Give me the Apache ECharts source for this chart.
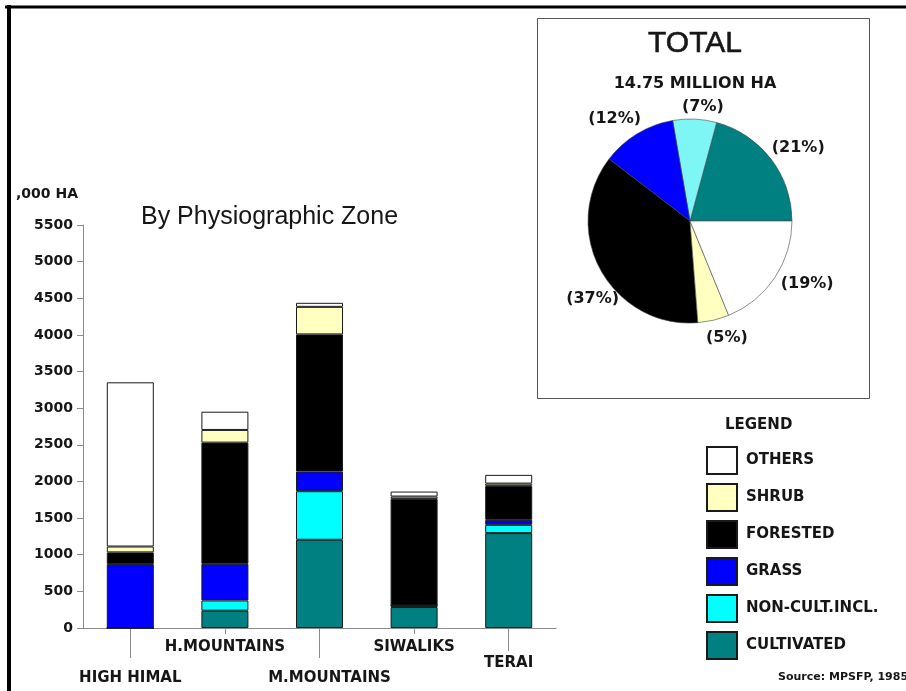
<!DOCTYPE html>
<html>
<head>
<meta charset="utf-8">
<script src="https://cdn.jsdelivr.net/npm/echarts@6/dist/echarts.min.js"></script>
<style>
  html, body { margin: 0; padding: 0; background: #fff; }
  #chart { width: 906px; height: 691px; }
</style>
</head>
<body>
<div id="chart"></div>
<script>
// Land use of Nepal, thousand hectares, by physiographic zone
const zones = ['HIGH HIMAL', 'H.MOUNTAINS', 'M.MOUNTAINS', 'SIWALIKS', 'TERAI'];
const cultivated = [0, 236, 1204, 286, 1295];
const nonCultIncl = [0, 140, 663, 22, 113];
const grass = [872, 500, 268, 0, 68];
const forested = [160, 1654, 1872, 1454, 464];
const shrub = [80, 173, 376, 32, 31];
const others = [2241, 249, 55, 68, 119];

// Share of the national total (percent)
const totalShare = [21, 7, 12, 37, 5, 19];
const totalShareNames = ['CULTIVATED', 'NON-CULT.INCL.', 'GRASS', 'FORESTED', 'SHRUB', 'OTHERS'];

const yTicks = { min: 0, max: 5500, step: 500 };

const BOLD = '"DejaVu Sans", sans-serif';
const INK = '#161616';

const colors = {
  'CULTIVATED': '#008080',
  'NON-CULT.INCL.': '#00ffff',
  'GRASS': '#0000ff',
  'FORESTED': '#000000',
  'SHRUB': '#ffffc0',
  'OTHERS': '#ffffff'
};
const pieColors = Object.assign({}, colors, { 'NON-CULT.INCL.': '#7ff6f6' });

// small hand nudges for the percentage labels around the pie
const pieLabelNudge = [[-9, -8], [-18, -6], [12, -10], [29, 26], [-14, 12], [-4, 3]];

const stackOrder = [
  ['CULTIVATED', cultivated],
  ['NON-CULT.INCL.', nonCultIncl],
  ['GRASS', grass],
  ['FORESTED', forested],
  ['SHRUB', shrub],
  ['OTHERS', others]
];

const barSeries = stackOrder.map(([name, values]) => ({
  name: name,
  type: 'bar',
  stack: 'zone',
  xAxisIndex: 0,
  yAxisIndex: 0,
  barWidth: 47,
  data: values,
  itemStyle: { color: colors[name], borderColor: '#1a1a1a', borderWidth: 1 },
  emphasis: { disabled: true }
}));

const labelFont = { fontFamily: BOLD, fontWeight: 'bold', fontSize: 15, color: INK };

function catAxis(showIdx, tickLen, margin, showLine, rich) {
  return {
    type: 'category',
    data: zones,
    position: 'bottom',
    gridIndex: 0,
    boundaryGap: true,
    axisLine: { show: showLine, lineStyle: { color: '#8a8a8a', width: 1 } },
    axisTick: {
      show: true, alignWithLabel: true, length: tickLen,
      interval: (i) => showIdx.indexOf(i) >= 0,
      lineStyle: { color: '#8a8a8a', width: 1 }
    },
    axisLabel: Object.assign({
      interval: (i) => showIdx.indexOf(i) >= 0,
      margin: margin,
      formatter: rich ? (v) => (v === 'M.MOUNTAINS' ? '{m|' + v + '}' : v) : undefined,
      rich: rich || undefined
    }, labelFont),
    splitLine: { show: false }
  };
}

const chart = echarts.init(document.getElementById('chart'), null, { renderer: 'canvas' });

chart.setOption({
  backgroundColor: '#ffffff',
  animation: false,
  title: [
    {
      text: 'By Physiographic Zone',
      left: 136, top: 200,
      textStyle: { fontFamily: '"Liberation Sans", Arial, sans-serif', fontWeight: 'normal', fontSize: 25, color: INK }
    },
    {
      text: 'TOTAL',
      left: 690, top: 24, textAlign: 'center',
      textStyle: { fontFamily: '"Liberation Sans", Arial, sans-serif', fontWeight: 'normal', fontSize: 30, color: INK, textBorderColor: INK, textBorderWidth: 0.6 }
    },
    {
      text: '14.75 MILLION HA',
      left: 690, top: 71, textAlign: 'center',
      textStyle: { fontFamily: BOLD, fontWeight: 'bold', fontSize: 16, color: INK }
    }
  ],
  legend: {
    orient: 'vertical',
    left: 706, top: 446,
    padding: 0,
    itemWidth: 30, itemHeight: 27, itemGap: 8,
    icon: 'rect',
    selectedMode: false,
    data: ['OTHERS', 'SHRUB', 'FORESTED', 'GRASS', 'NON-CULT.INCL.', 'CULTIVATED'],
    textStyle: { fontFamily: BOLD, fontWeight: 'bold', fontSize: 15, color: INK, padding: [0, 0, 0, 4] }
  },
  grid: { left: 83, right: 350, top: 225, bottom: 63, containLabel: false },
  xAxis: [
    catAxis([1, 3], 6, 12, true),
    catAxis([0, 2], 30, 43, false, { m: { padding: [0, 0, 0, 20], fontFamily: BOLD, fontWeight: 'bold', fontSize: 15, color: INK } }),
    catAxis([4], 23, 28, false)
  ],
  yAxis: {
    type: 'value',
    min: yTicks.min, max: yTicks.max, interval: yTicks.step,
    name: ',000 HA',
    nameLocation: 'end',
    nameGap: 24,
    nameTextStyle: { fontFamily: BOLD, fontWeight: 'bold', fontSize: 14, color: INK, align: 'right', padding: [0, 5, 0, 0] },
    axisLine: { show: true, lineStyle: { color: '#8a8a8a', width: 1 } },
    axisTick: { show: true, length: 6, lineStyle: { color: '#8a8a8a', width: 1 } },
    axisLabel: { margin: 10, fontFamily: BOLD, fontWeight: 'bold', fontSize: 14, color: INK, formatter: (v) => String(v) },
    splitLine: { show: false }
  },
  series: barSeries.concat([{
    name: 'TOTAL',
    type: 'pie',
    center: [690, 221],
    radius: 102,
    startAngle: 0,
    clockwise: false,
    avoidLabelOverlap: false,
    emphasis: { disabled: true },
    itemStyle: { borderColor: '#444', borderWidth: 0.6 },
    label: {
      show: true,
      position: 'outside',
      formatter: '({c}%)',
      fontFamily: BOLD, fontWeight: 'bold', fontSize: 16, color: INK
    },
    labelLine: { show: false, length: 6, length2: 0 },
    labelLayout: (p) => {
      const n = pieLabelNudge[p.dataIndex] || [0, 0];
      return { dx: n[0], dy: n[1] };
    },
    data: totalShareNames.map((n, i) => ({ name: n, value: totalShare[i], itemStyle: { color: pieColors[n] } }))
  }]),
  graphic: [
    // outer frame
    { type: 'line', shape: { x1: 5, y1: 7, x2: 906, y2: 7 }, style: { stroke: '#000', lineWidth: 3 } },
    { type: 'line', shape: { x1: 9, y1: 5, x2: 9, y2: 691 }, style: { stroke: '#000', lineWidth: 4 } },
    // box around the national total
    { type: 'rect', shape: { x: 537.5, y: 18.5, width: 332, height: 380 }, style: { fill: 'none', stroke: '#555', lineWidth: 1 }, z: -1 },
    { type: 'text', left: 725, top: 418, style: { text: 'LEGEND', font: 'bold 15px "DejaVu Sans"', fill: INK } },
    { type: 'text', left: 778, top: 672, style: { text: 'Source: MPSFP, 1985', font: 'bold 11px "DejaVu Sans"', fill: INK } }
  ]
});
</script>
</body>
</html>
